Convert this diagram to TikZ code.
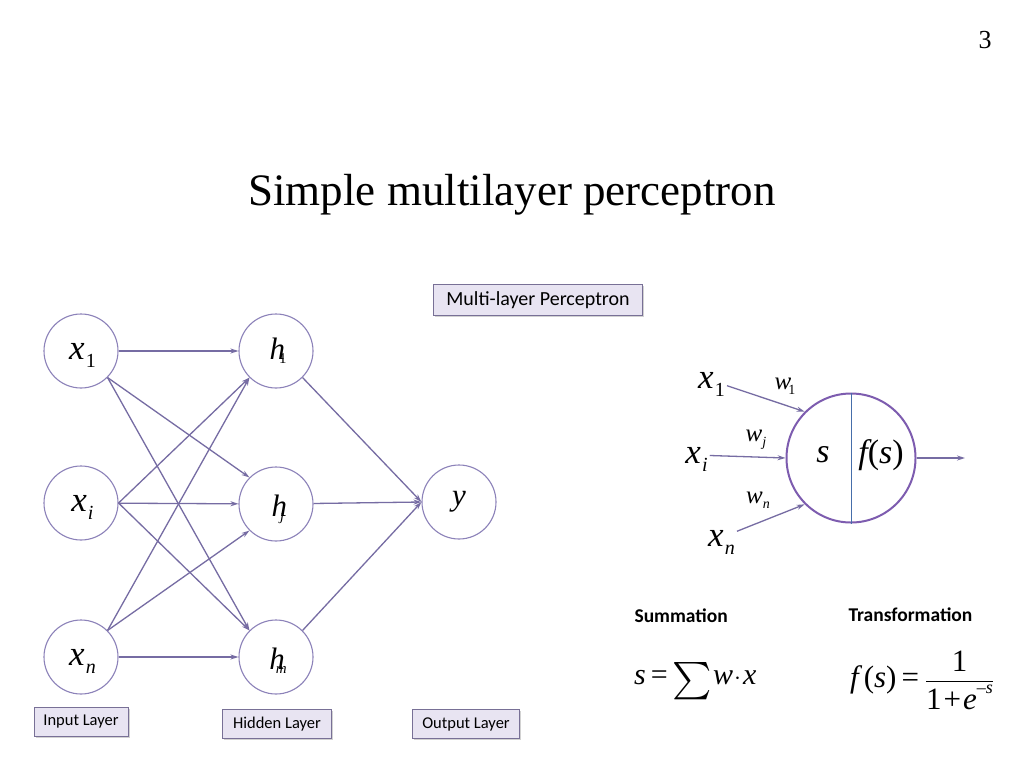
\documentclass[tikz,border=0pt]{standalone}
\usepackage{amsmath}
\usepackage{graphicx}
\usepackage{fontspec}
\setmainfont{Liberation Serif}
\newfontfamily\calib{Carlito}
\usetikzlibrary{arrows.meta,shadows}
\definecolor{edgec}{RGB}{118,108,163}
\definecolor{ringc}{RGB}{140,130,185}
\definecolor{boxfill}{RGB}{232,228,242}
\definecolor{boxdraw}{RGB}{120,112,150}
\definecolor{neuronc}{RGB}{125,92,175}
\definecolor{splitc}{RGB}{70,110,170}
\tikzset{
  unit/.style={circle,draw=ringc,line width=1.1pt,minimum size=74pt,inner sep=0pt,fill=white},
  link/.style={draw=edgec,line width=1.3pt,-{Stealth[length=8pt,width=5pt]}},
  tag/.style={draw=boxdraw,fill=boxfill,line width=1pt,inner sep=0pt,
    font=\calib\fontsize{16.5}{18}\selectfont,
    drop shadow={shadow xshift=1.5pt,shadow yshift=-1.5pt,opacity=0.35,fill=gray}},
}
% x label: baseline below the node centre
\newcommand{\xlab}[2]{\raisebox{-8pt}[18pt][18pt]{\fontsize{35}{37}\selectfont\itshape\kern3pt x\kern1pt\raisebox{-8pt}{\fontsize{20}{20}\selectfont #2#1}}}
% h label: #3 kern, #4 baseline drop
\newcommand{\hlab}[4]{\raisebox{-#4}[20pt][20pt]{\fontsize{31}{33}\selectfont\itshape\kern4pt h\kern#3\raisebox{-4pt}{\fontsize{15}{15}\selectfont #2#1}}}
\newcommand{\wlab}[3]{\fontsize{25}{27}\selectfont\itshape w\kern#3\raisebox{-5pt}{\fontsize{14}{14}\selectfont #2#1}}
\begin{document}
\begin{tikzpicture}[x=1pt,y=-1pt]
\useasboundingbox[fill=white] (0,0) rectangle (1024,768);

% page number and title
\node[font=\fontsize{26}{28}\selectfont] (pnum) at (985,40) {3};
\node[font=\fontsize{45}{50}\selectfont] (title) at (512,195) {Simple multilayer perceptron};

% network nodes
\node[unit] (x1) at (81,351) {\xlab{1}{\upshape}};
\node[unit] (xi) at (81,503) {\xlab{i}{}};
\node[unit] (xn) at (81,657) {\xlab{n}{}};
\node[unit] (h1) at (276,351) {\hlab{1}{\upshape}{-6pt}{8pt}};
\node[unit] (hj) at (276,504) {\hlab{j}{}{-7pt}{12pt}};
\node[unit] (hm) at (276,657) {\hlab{m}{}{-9pt}{12pt}};
\node[unit] (y) at (459,502) {\raisebox{0.3em}{\fontsize{31}{33}\selectfont\itshape y}};

% connections
\draw[link] (x1) -- (h1);
\draw[link] (x1.south east) -- (hj.north west);
\draw[link] (x1.south east) -- (hm.north west);
\draw[link] (xi.east) -- (h1.south west);
\draw[link] (xi) -- (hj);
\draw[link] (xi.east) -- (hm.north west);
\draw[link] (xn.north east) -- (h1.south west);
\draw[link] (xn.north east) -- (hj.south west);
\draw[link] (xn) -- (hm);
\draw[link] (h1.south east) -- (y.west);
\draw[link] (hj) -- (y.west);
\draw[link] (hm.north east) -- (y.west);

% layer tags
\node[tag,minimum width=94pt,minimum height=29pt] (tin) at (81,722) {Input Layer};
\node[tag,minimum width=109pt,minimum height=29pt] (thid) at (277,724) {Hidden Layer};
\node[tag,minimum width=107pt,minimum height=29pt] (tout) at (466,724) {Output Layer};
\node[tag,minimum width=209pt,minimum height=31pt,font=\calib\fontsize{20}{22}\selectfont] (tmlp) at (538,300) {Multi-layer Perceptron};

% single neuron
\node[circle,draw=neuronc,line width=2pt,minimum size=129pt,inner sep=0pt] (neuron) at (851,458) {};
\draw[splitc,line width=1pt] (neuron.north) -- (neuron.south);
\node[font=\fontsize{34}{36}\selectfont\itshape] (sl) at (823,455) {s};
\node[font=\fontsize{34}{36}\selectfont] (fl) at (881,455) {\itshape f\upshape(\itshape s\upshape)};
\node[inner sep=2pt] (nx1) at (710,380) {\xlab{1}{\upshape}};
\node[inner sep=2pt] (nxi) at (695,455) {\xlab{i}{}};
\node[inner sep=2pt] (nxn) at (720,538) {\xlab{n}{}};
\node[inner sep=0pt] (w1) at (785,386) {\wlab{1}{\upshape}{-3pt}};
\node[inner sep=0pt] (wj) at (756,440) {\wlab{j}{}{0pt}};
\node[inner sep=0pt] (wn) at (758,500) {\wlab{n}{}{0pt}};
\coordinate (outp) at (965,458);
\draw[link] (nx1) -- (neuron.135);
\draw[link] (nxi) -- (neuron.west);
\draw[link] (nxn) -- (neuron.225);
\draw[link] (neuron.east) -- (outp);

% formulas
\node[font=\calib\bfseries\fontsize{19.5}{22}\selectfont,anchor=west] (sumt) at (631,616) {Summation};
\node[font=\calib\bfseries\fontsize{19.5}{22}\selectfont,anchor=west] (trt) at (845,615) {Transformation};
\node[anchor=base west,font=\fontsize{30}{32}\selectfont,inner sep=0pt] (sumf) at (634,684)
  {\itshape s\upshape\kern5pt=\kern5pt\raisebox{-6pt}{\scalebox{1.5}{$\sum$}}\kern1pt\itshape w\upshape\kern1pt$\cdot$\kern2pt\itshape x};
\node[anchor=west,font=\fontsize{31}{33}\selectfont,inner sep=0pt] (trf) at (850,680)
  {\itshape f\upshape\kern5pt(\itshape s\upshape)\kern5pt=\kern6pt$\dfrac{\mbox{1}}{\mbox{1\kern2pt+\kern2pt\itshape e\upshape\raisebox{0.5em}{\fontsize{18}{18}\selectfont –\itshape s}}}$};
\end{tikzpicture}
\end{document}
